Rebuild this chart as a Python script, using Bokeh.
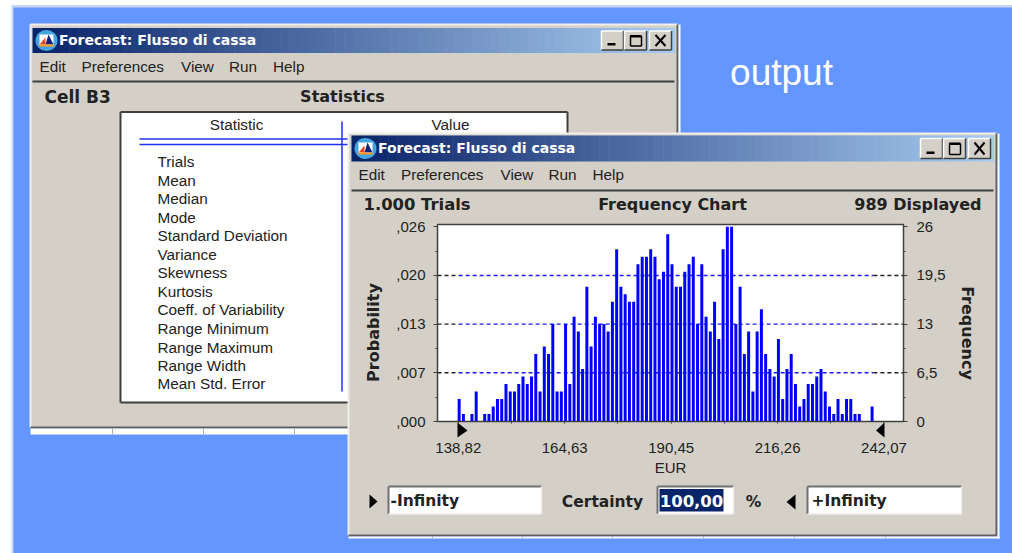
import math
from bokeh.plotting import figure
from bokeh.layouts import column
from bokeh.embed import file_html
from bokeh.resources import INLINE
from bokeh.core.properties import value
from bokeh.models import Range1d, LinearAxis, FixedTicker

# ---------- data ----------
freq_counts = [3,1,0,1,4,0,1,1,2,3,3,5,4,4,5,6,5,6,9,4,10,9,13,4,4,13,5,14,12,7,18,10,14,13,13,12,
               16,23,18,17,16,16,21,22,22,23,22,19,20,25,21,18,18,20,21,22,13,21,14,12,16,11,23,26,
               26,13,18,9,12,4,12,15,9,7,6,11,3,7,9,5,2,3,5,5,6,7,4,2,1,3,1,3,3,1,1,0,0,2]
trials = 1000
cell_low = 138.82
cell_width = 1.0325
x_ticks = [138.82, 164.63, 190.45, 216.26, 242.07]
x_tick_labels = ["138,82", "164,63", "190,45", "216,26", "242,07"]
freq_ticks = [0, 6.5, 13, 19.5, 26]
freq_labels = ["0", "6,5", "13", "19,5", "26"]
prob_ticks = [0, 0.0065, 0.013, 0.0195, 0.026]
prob_labels = [",000", ",007", ",013", ",020", ",026"]
statistic_rows = ["Trials", "Mean", "Median", "Mode", "Standard Deviation", "Variance", "Skewness", "Kurtosis",
                  "Coeff. of Variability", "Range Minimum", "Range Maximum", "Range Width", "Mean Std. Error"]
menu_items = ["Edit", "Preferences", "View", "Run", "Help"]
window_title = "Forecast: Flusso di cassa"

# ---------- colours, fonts ----------
BLUE = "#6496ff"; GREY = "#d4d0c8"; DARK = "#404040"; INK = "#222222"
UI = "Liberation Sans"; BOLD = "DejaVu Sans"

# ---------- the "desktop": one pixel = one data unit ----------
p = figure(width=1012, height=553, x_range=Range1d(0, 1012), y_range=Range1d(553, 0),
           toolbar_location=None, output_backend="svg", outline_line_color=None,
           x_axis_location=None, y_axis_location=None, frame_align=False,
           min_border_left=0, min_border_right=0, min_border_top=0, min_border_bottom=0,
           background_fill_color="white", border_fill_color="white",
           styles={"position": "absolute", "left": "0px", "top": "0px"})
p.xgrid.visible = False
p.ygrid.visible = False

def box(x0, y0, x1, y1, c, **kw):
    p.quad(left=x0, right=x1, top=y0, bottom=y1, fill_color=c, line_color=None, **kw)

def rule(x0, y0, x1, y1, c=DARK, w=1.5):
    p.segment(x0=x0, y0=y0, x1=x1, y1=y1, line_color=c, line_width=w)

def txt(x, y, s, size=15, font=UI, style="normal", color=INK, align="left", angle=0):
    p.text(x=[x], y=[y - (1 if font == UI else 0)], text=[s], text_font=value(font), text_font_size=f"{size}px",
           text_font_style=style, text_color=color, text_align=align, text_baseline="middle", angle=angle)

def tri(xs, ys, c="black"):
    p.patch(x=xs, y=ys, fill_color=c, line_color=None)

def raised(x0, y0, x1, y1):
    box(x0, y0, x1, y1, GREY)
    rule(x0, y0, x1, y0, "white", 1.5)
    rule(x0, y0, x0, y1, "white", 1.5)
    rule(x1, y0, x1, y1, DARK, 1.5)
    rule(x0, y1, x1, y1, DARK, 1.5)

def sunken(x0, y0, x1, y1):
    box(x0, y0, x1, y1, "white")
    rule(x0, y0, x1, y0, "#707070", 2)
    rule(x0, y0, x0, y1, "#707070", 2)
    rule(x1, y0, x1, y1, "#f0eee8", 1.5)
    rule(x0, y1, x1, y1, "#f0eee8", 1.5)

def window(x0, y0, x1, y1, tx0, ty0, tx1, ty1, menu_xs, menu_y, sep_y, ticks_x, strip):
    box(x0, y0, x1, y1, GREY)
    rule(x0, y0, x1, y0, "#f0eee8", 2)
    rule(x0, y0, x0, y1, "#f0eee8", 2)
    rule(x1, y0, x1, y1, "#606060", 2)
    rule(x0, y1, x1, y1, "#606060", 2)
    # white spreadsheet strip beneath / beside
    box(x0, y1 + 1, x1 + 3, y1 + strip, "white")
    box(x1 + 1, y0, x1 + 3, y1 + strip, "white")
    for tx in ticks_x:
        rule(tx, y1 + 1, tx, y1 + strip, "#b0b0b0", 1)
    # gradient title bar
    n = 70
    c0 = (10, 36, 106); c1 = (166, 202, 240)
    for i in range(n):
        t = i / (n - 1)
        col = "#%02x%02x%02x" % tuple(int(a + (b - a) * t) for a, b in zip(c0, c1))
        box(tx0 + (tx1 - tx0) * i / n, ty0, tx0 + (tx1 - tx0) * (i + 1) / n + 0.5, ty1, col)
    # icon
    ix = tx0 + 14; iy = (ty0 + ty1) / 2
    p.ellipse(x=[ix], y=[iy], width=22, height=21, fill_color="#45a5e0", line_color=None)
    box(ix - 7, iy - 6, ix + 7, iy + 5, "white")
    tri([ix - 7, ix - 1, ix - 1], [iy + 4, iy + 4, iy - 3], "#e8451f")
    tri([ix - 1, ix + 2, ix + 7], [iy + 4, iy - 6, iy + 4], "#12247a")
    box(ix - 7, iy + 4, ix + 7, iy + 6, "#ff9a1e")
    txt(tx0 + 26.5, iy - 1, window_title, 14, BOLD, "bold", "white")
    # caption buttons
    by0 = ty0 + 3; by1 = ty1 - 3
    bx = tx1 - 73
    raised(bx, by0, bx + 22, by1)
    box(bx + 6, by1 - 7, bx + 14, by1 - 4.5, "black")
    raised(bx + 23, by0, bx + 45, by1)
    box(bx + 28.5, by0 + 4, bx + 40, by0 + 6.5, "black")
    rule(bx + 29, by0 + 5, bx + 29, by1 - 4, "black", 1.5)
    rule(bx + 40, by0 + 5, bx + 40, by1 - 4, "black", 1.5)
    rule(bx + 29, by1 - 4, bx + 40, by1 - 4, "black", 1.5)
    raised(bx + 48, by0, bx + 70, by1)
    rule(bx + 54, by0 + 4, bx + 64, by1 - 4, "black", 2)
    rule(bx + 54, by1 - 4, bx + 64, by0 + 4, "black", 2)
    # menu
    for mx, m in zip(menu_xs, menu_items):
        txt(mx - 1, menu_y, m, 15.3)
    rule(tx0, sep_y, tx1, sep_y, DARK, 1.8)

# background
box(11, 4.5, 1012, 553, "#c6d6f5")
box(13, 7, 1012, 553, BLUE)

# --- back window: statistics
window(30, 24, 677, 427, 32, 27.5, 674, 52.5, [40, 82, 181.5, 229.5, 273.5], 67, 81, [112, 203, 294], 7)
txt(44, 96, "Cell B3", 17, BOLD, "bold")
txt(342, 96, "Statistics", 16, BOLD, "bold", align="center")
box(120, 111.5, 567, 402, "white")
rule(120, 111.5, 567, 111.5, DARK, 2)
rule(120, 111.5, 120, 402, DARK, 2)
rule(120, 402, 567, 402, DARK, 2)
rule(567, 111.5, 567, 402, DARK, 2)
txt(236, 125, "Statistic", 15.3, align="center")
txt(450, 125, "Value", 15.3, align="center")
rule(139, 138.5, 567, 138.5, "#2030f0", 1.5)
rule(139, 144, 567, 144, "#2030f0", 1.5)
rule(341.5, 121, 341.5, 391, "#2030f0", 1.5)
row_ys = [162, 181, 199, 218, 236, 255, 273, 291.5, 310, 329, 347.5, 366, 384]
for ry, s in zip(row_ys, statistic_rows):
    txt(157, ry, s, 15.3)

txt(781, 73, "output", 37, UI, "normal", "white", "center")

# --- front window: frequency chart chrome
window(348, 133, 996, 535, 351, 135, 993, 161, [359, 401.5, 501, 549, 593], 175, 190,
       [432, 522, 612, 703, 794, 885], 3)
txt(363, 204, "1.000 Trials", 16.4, BOLD, "bold")
txt(672, 204, "Frequency Chart", 16, BOLD, "bold", align="center")
txt(981, 204, "989 Displayed", 16, BOLD, "bold", align="right")
txt(373, 332, "Probability", 16, BOLD, "bold", align="center", angle=math.pi / 2)
txt(967, 332.5, "Frequency", 16, BOLD, "bold", align="center", angle=-math.pi / 2)

tri([457, 457, 467], [422, 437, 430])
tri([884, 884, 875.5], [422, 437, 430])

tri([369, 369, 377], [494, 508, 501])
sunken(388, 486, 541, 513.5)
txt(390, 500, "-Infinity", 15.5, BOLD, "bold")
txt(602, 501, "Certainty", 15.5, BOLD, "bold", align="center")
sunken(657, 486, 733, 513.5)
box(659, 488.5, 723, 511, "#0a246a")
txt(691, 500, "100,00", 16.5, BOLD, "bold", "white", "center")
txt(753, 501, "%", 15.5, BOLD, "bold", align="center")
tri([795, 795, 786], [494, 509, 501.5])
sunken(807, 486, 961, 513.5)
txt(811, 500, "+Infinity", 15.5, BOLD, "bold")

# ---------- the frequency chart itself: a real figure on top of the chrome ----------
cell_centres = [cell_low + (i + 0.2) * cell_width for i in range(len(freq_counts))]

ch = figure(width=645, height=265, x_range=Range1d(133.775, 246.80), y_range=Range1d(0, 26.3),
            toolbar_location=None, output_backend="svg", frame_align=False,
            min_border_left=87, min_border_right=92, min_border_top=9, min_border_bottom=59,
            background_fill_color="white", border_fill_alpha=0, border_fill_color=None,
            outline_line_color=DARK, outline_line_width=1.5,
            y_axis_location=None, x_axis_location=None,
            styles={"position": "absolute", "left": "350px", "top": "215px"})
ch.extra_y_ranges = {"prob": Range1d(0, 0.0263)}

TICK = dict(major_label_text_font=UI, major_label_text_font_size="15px", major_label_text_color=INK,
            axis_line_color=DARK, major_tick_line_color=DARK, minor_tick_line_color=DARK)

left = LinearAxis(y_range_name="prob",
                  ticker=FixedTicker(ticks=prob_ticks, minor_ticks=[0.00325, 0.00975, 0.01625, 0.02275]),
                  major_tick_out=4, major_tick_in=0, minor_tick_out=2, minor_tick_in=0,
                  major_label_standoff=8, major_label_overrides=dict(zip(prob_ticks, prob_labels)), **TICK)
ch.add_layout(left, "left")
right = LinearAxis(ticker=FixedTicker(ticks=freq_ticks, minor_ticks=[3.25, 9.75, 16.25, 22.75]),
                   major_tick_out=4, major_tick_in=0, minor_tick_out=2, minor_tick_in=0,
                   major_label_standoff=9, major_label_overrides=dict(zip(freq_ticks, freq_labels)), **TICK)
ch.add_layout(right, "right")
step = (x_ticks[1] - x_ticks[0]) / 2
below = LinearAxis(axis_label="EUR", axis_label_standoff=3,
                   ticker=FixedTicker(ticks=x_ticks, minor_ticks=[t + step for t in x_ticks[:-1]]),
                   major_tick_out=2, major_tick_in=0, minor_tick_out=2, minor_tick_in=0,
                   major_label_standoff=19, major_label_overrides=dict(zip(x_ticks, x_tick_labels)), **TICK)
below.axis_label_text_font = UI
below.axis_label_text_font_style = "normal"
below.axis_label_text_color = INK
below.axis_label_text_font_size = "15px"
ch.add_layout(below, "below")

ch.xgrid.visible = False
ch.ygrid.visible = False
level_ys = [6.5, 13, 19.5]
for ly in level_ys:
    ch.line(x=[138.9, 239.5], y=[ly, ly], line_color="#1a1aff", line_width=1.4, line_dash="4 3")
    ch.line(x=[133.775, 138.9], y=[ly, ly], line_color="#202020", line_width=1.4, line_dash="4 3")
    ch.line(x=[239.5, 246.8], y=[ly, ly], line_color="#202020", line_width=1.4, line_dash="4 3")
ch.vbar(x=cell_centres, top=freq_counts, bottom=0, width=cell_width * 0.7, fill_color="#0000ff", line_color=None)

root = column(p, ch, width=1012, height=553,
              styles={"position": "absolute", "left": "0px", "top": "0px"})
open("out.html", "w").write(file_html(root, INLINE))
